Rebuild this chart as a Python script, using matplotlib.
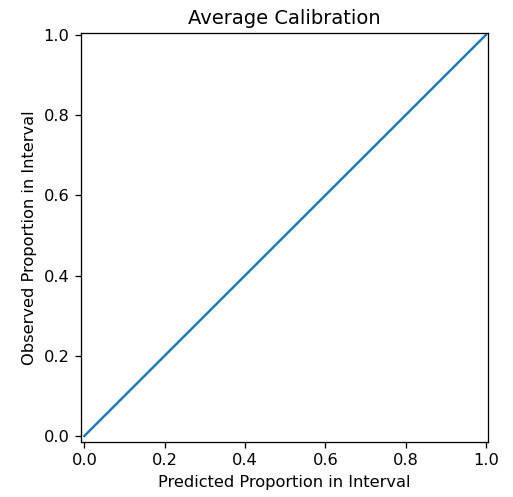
import numpy as np
import matplotlib
matplotlib.use("Agg")
import matplotlib.pyplot as plt

# calibration curve: expected vs observed proportion in interval
exp_proportions = [0.0, 0.25, 0.5, 0.75, 1.0]
obs_proportions = [0.0, 0.25, 0.5, 0.75, 1.0]

dpi = 116.7
fig = plt.figure(figsize=(513 / dpi, 497 / dpi), dpi=dpi)
ax = fig.add_axes([80.7 / 513, (497 - 442) / 497, 407.6 / 513, 408.7 / 497])
ax.plot(exp_proportions, obs_proportions, c="#1f77b4")
ax.set_xlim(-0.009, 1.006)
ax.set_ylim(-0.015, 1.004)
ax.set_xticks([0.0, 0.2, 0.4, 0.6, 0.8, 1.0])
ax.set_yticks([0.0, 0.2, 0.4, 0.6, 0.8, 1.0])
ax.set_xlabel("Predicted Proportion in Interval")
ax.set_ylabel("Observed Proportion in Interval")
ax.set_title("Average Calibration")
fig.savefig("out.png", dpi=dpi)
